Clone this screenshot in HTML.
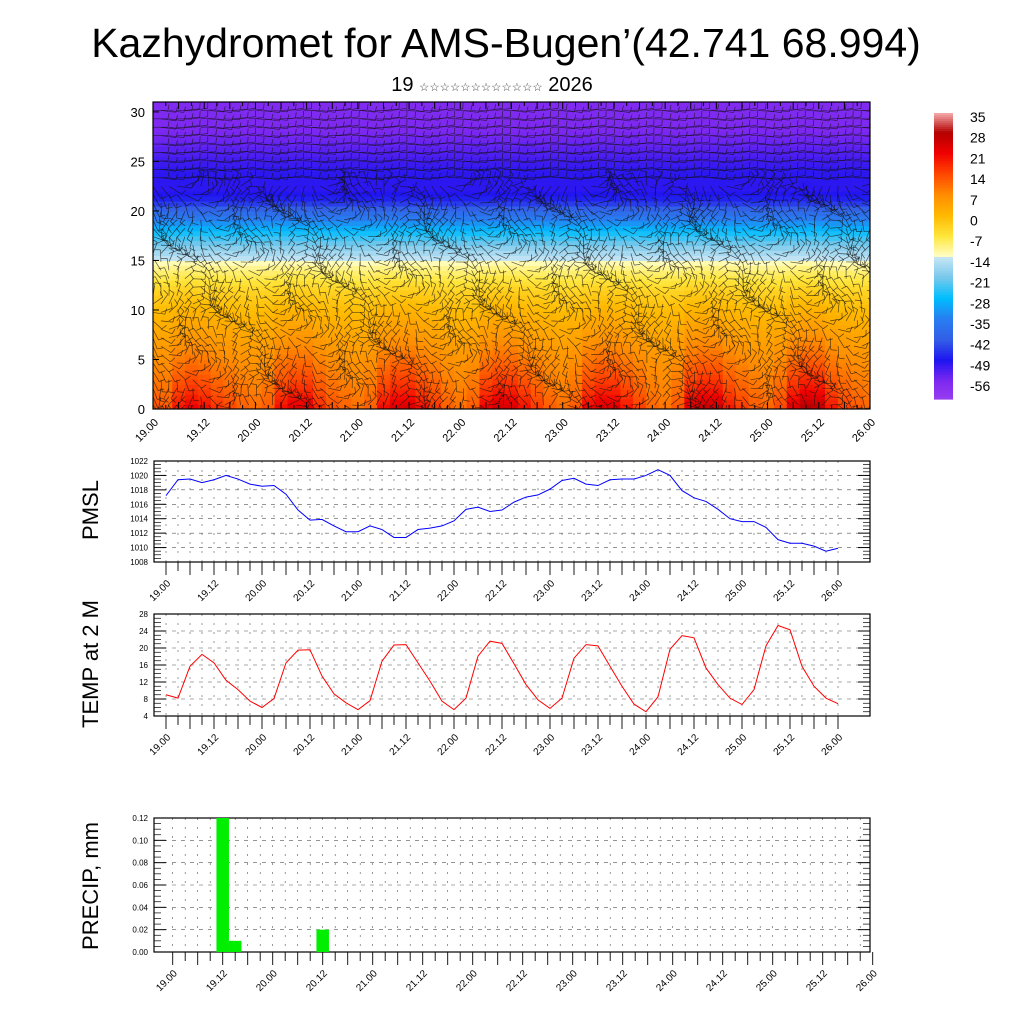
<!DOCTYPE html>
<html><head><meta charset="utf-8"><style>
body{margin:0;background:#fff;}
svg{display:block;font-family:"Liberation Sans",sans-serif;}
</style></head><body>
<svg id="chart" width="1024" height="1024" viewBox="0 0 1024 1024" xmlns="http://www.w3.org/2000/svg">
<defs><clipPath id="topclip"><rect x="153" y="102" width="717" height="307"/></clipPath></defs>
<text x="506" y="57" font-size="41" text-anchor="middle">Kazhydromet for AMS-Bugen’(42.741 68.994)</text>
<text x="492" y="91" font-size="20" text-anchor="middle">19 <tspan font-size="11.5" fill="#444">☆☆☆☆☆☆☆☆☆☆☆☆</tspan> 2026</text>
<g id="top"></g>
<g id="cbar"></g>
<g id="pmsl"></g>
<g id="temp"></g>
<g id="precip"></g>
<text transform="translate(98,510) rotate(-90)" font-size="22" text-anchor="middle">PMSL</text>
<text transform="translate(98,664) rotate(-90)" font-size="22" text-anchor="middle">TEMP at 2 M</text>
<text transform="translate(98,886) rotate(-90)" font-size="22" text-anchor="middle">PRECIP, mm</text>
</svg>
<script>
const timeLabels=["19.00","19.12","20.00","20.12","21.00","21.12","22.00","22.12","23.00","23.12","24.00","24.12","25.00","25.12","26.00"];
const pmslValues=[1017.2,1019.4,1019.5,1019.0,1019.4,1020.0,1019.5,1018.8,1018.5,1018.6,1017.4,1015.2,1013.8,1013.9,1013.0,1012.2,1012.2,1013.0,1012.5,1011.4,1011.4,1012.5,1012.7,1013.0,1013.7,1015.3,1015.6,1015.0,1015.2,1016.3,1017.0,1017.3,1018.1,1019.3,1019.6,1018.8,1018.6,1019.4,1019.5,1019.5,1020.0,1020.8,1020.0,1017.9,1016.9,1016.4,1015.3,1014.0,1013.6,1013.6,1012.8,1011.1,1010.6,1010.6,1010.2,1009.5,1009.9];
const tempValues=[9.0,8.2,15.7,18.5,16.5,12.4,10.2,7.5,6.0,8.1,16.5,19.5,19.6,13.4,9.2,7.1,5.5,7.6,16.9,20.7,20.8,16.5,12.2,7.5,5.5,8.2,18.1,21.6,21.1,16.3,11.4,7.8,5.8,8.2,17.6,20.8,20.5,15.7,11.0,6.8,5.0,8.5,19.7,22.9,22.4,15.3,11.4,8.2,6.7,10.2,20.5,25.3,24.3,15.7,11.0,8.2,6.9];
const precipIndex=[4,5,12];
const precipValues=[0.12,0.01,0.02];
const profileHeights=[0,2,4,6,8,10,12,14,15,16,18,20,21,22,24,26,28,31];
const profileTemps=[16,12,9,6,3,0,-4,-10,-14,-18,-28,-40,-47,-50,-50,-53,-56,-57];
const cbarLabels=[35,28,21,14,7,0,-7,-14,-21,-28,-35,-42,-49,-56];
const NS="http://www.w3.org/2000/svg";
function mk(p,t,a){const e=document.createElementNS(NS,t);for(const k in a)e.setAttribute(k,a[k]);p.appendChild(e);return e;}
const cstops=[[-62,[150,60,240]],[-56,[125,40,240]],[-49,[30,20,240]],[-42,[50,95,230]],[-35,[40,125,240]],[-28,[0,190,255]],[-21,[120,200,235]],[-14.01,[200,230,245]],[-14,[255,255,200]],[-7,[255,230,60]],[0,[255,185,0]],[7,[255,140,0]],[14,[255,70,0]],[21,[240,0,0]],[28,[180,0,0]],[35,[250,180,180]]];
function col(v){if(v<=cstops[0][0])return`rgb(${cstops[0][1]})`;for(let i=1;i<cstops.length;i++){if(v<=cstops[i][0]){const a=cstops[i-1],b=cstops[i],f=(v-a[0])/(b[0]-a[0]);return`rgb(${a[1].map((c,j)=>Math.round(c+(b[1][j]-c)*f)).join(",")})`;}}return`rgb(${cstops[cstops.length-1][1]})`;}
function prof(h){for(let i=1;i<profileHeights.length;i++){if(h<=profileHeights[i]){const f=(h-profileHeights[i-1])/(profileHeights[i]-profileHeights[i-1]);return profileTemps[i-1]+(profileTemps[i]-profileTemps[i-1])*f;}}return profileTemps[profileTemps.length-1];}
const T=document.getElementById('top');
const tx0=153,tx1=870,ty0=102,ty1=409,hMax=31;
const txS=i=>tx0+(tx1-tx0)*i/56, tyS=h=>ty1-(ty1-ty0)*h/hMax;
const n=tempValues.length;
const hg=mk(T,'g',{'clip-path':'url(#topclip)'});
for(let i=0;i<n;i++){const xa=i===0?tx0:(txS(i-1)+txS(i))/2,xb=i===n-1?tx1:(txS(i)+txS(i+1))/2;
 for(let h=0;h<hMax;h+=0.5){const v=prof(h+0.25)+(tempValues[i]-12)*Math.exp(-h/4.5)*0.9;
  const r=mk(hg,'rect',{x:xa,y:tyS(h+0.5),width:xb-xa+0.5,height:(ty1-ty0)/hMax*0.5+0.5,fill:col(v)});
  
  }}
const wg=mk(T,'g',{stroke:'#111','stroke-width':0.7,'stroke-opacity':0.7,fill:'none','clip-path':'url(#topclip)'});


for(let j=0;j<=90;j++){for(let h=0.4;h<31;h+=0.85){const x=tx0+(tx1-tx0)*j/90,y=tyS(h);
 const a=(h>23?0.15*Math.sin(j):1.7*Math.sin(j*0.37+h*0.35)+0.7*Math.cos(h*0.7-j*0.2));const L=h>20?15:12;
 const dx=Math.cos(a)*L,dy=Math.sin(a)*L;
 mk(wg,'line',{x1:x,y1:y,x2:x+dx,y2:y+dy});
 mk(wg,'line',{x1:x+dx,y1:y+dy,x2:x+dx+Math.cos(a-1.4)*6,y2:y+dy+Math.sin(a-1.4)*6});}}
mk(T,'rect',{x:tx0,y:ty0,width:tx1-tx0,height:ty1-ty0,fill:'none',stroke:'#000','stroke-width':1.2});
[0,5,10,15,20,25,30].forEach(v=>{const y=tyS(v);mk(T,'line',{x1:tx0,x2:tx0+6,y1:y,y2:y,stroke:'#000'});
 const t=mk(T,'text',{x:tx0-8,y:y+5,'font-size':13,'text-anchor':'end'});t.textContent=v;
 
 });
for(let i=0;i<n;i++){const x=txS(i);mk(T,'line',{x1:x,x2:x,y1:ty1,y2:ty1-(i%2?4:7),stroke:'#000'});mk(T,'line',{x1:x,x2:x,y1:ty0,y2:ty0+(i%2?4:7),stroke:'#000'});}
timeLabels.forEach((s,k)=>{const x=txS(k*4);const t=mk(T,'text',{transform:`translate(${x+6},${ty1+14}) rotate(-45)`,'font-size':11,'text-anchor':'end'});t.textContent=s;
 
 });
const C=document.getElementById('cbar');
const cb0=113,cb1=398;
for(let y=cb0;y<cb1;y+=2){const v=35-(y+1-112)/20.7*7;mk(C,'rect',{x:934,y:y,width:19,height:2.6,fill:col(v)});}
cbarLabels.forEach((v,k)=>{const t=mk(C,'text',{x:970,y:122+k*20.7,'font-size':14});t.textContent=v;
 
 });
function panel(id,y0,y1,vmin,vmax,major,minor,fmt,x0tick,x1tick){
 const G=document.getElementById(id);const X0=154,X1=870;
 const ys=v=>y1-(y1-y0)*(v-vmin)/(vmax-vmin);const xs=i=>x0tick+(x1tick-x0tick)*i/56;
 const gd=mk(G,'g',{stroke:'#555','stroke-width':0.6,'stroke-dasharray':'4,5'});
 for(let v=vmin+major;v<vmax;v+=major){mk(gd,'line',{x1:X0,x2:X1,y1:ys(v),y2:ys(v)});}
 const gv=mk(G,'g',{stroke:'#555','stroke-width':0.6,'stroke-dasharray':'2,7'});
 for(let i=0;i<=56;i++){const x=xs(i);if(x<X1)mk(gv,'line',{x1:x,x2:x,y1:y0,y2:y1});}
 mk(G,'rect',{x:X0,y:y0,width:X1-X0,height:y1-y0,fill:'none',stroke:'#000','stroke-width':1.2});
 for(let v=vmin;v<=vmax+1e-9;v+=minor){const isM=Math.abs(((v-vmin)/major)-Math.round((v-vmin)/major))<1e-6;const L=isM?12:7;
  mk(G,'line',{x1:X0,x2:X0+L,y1:ys(v),y2:ys(v),stroke:'#000','stroke-width':isM?1:0.7});
  mk(G,'line',{x1:X1,x2:X1-L,y1:ys(v),y2:ys(v),stroke:'#000','stroke-width':isM?1:0.7});
  if(isM){const t=mk(G,'text',{x:X0-6,y:ys(v)+3,'font-size':8,'text-anchor':'end'});t.textContent=fmt(v);
   
   }}
 for(let i=0;i<=56;i++)mk(G,'line',{x1:xs(i),x2:xs(i),y1:y1,y2:y1+(i%2?9:13),stroke:'#000','stroke-width':0.9});
 timeLabels.forEach((s,k)=>{const t=mk(G,'text',{transform:`translate(${xs(k*4)+5},${y1+22}) rotate(-45)`,'font-size':10,'text-anchor':'end'});t.textContent=s;
  
  });
 return {G,xs,ys};}
let p=panel('pmsl',461,562,1008,1022,2,0.5,v=>v.toFixed(0),166,838);
let pts=pmslValues.map((v,i)=>p.xs(i)+','+p.ys(v)).join(' ');
let l=mk(p.G,'polyline',{points:pts,fill:'none',stroke:'#0000ff','stroke-width':1});


p=panel('temp',614,716,4,28,4,1,v=>v.toFixed(0),166,838);
pts=tempValues.map((v,i)=>p.xs(i)+','+p.ys(v)).join(' ');
l=mk(p.G,'polyline',{points:pts,fill:'none',stroke:'#ff0000','stroke-width':1});


p=panel('precip',818,952,0,0.12,0.02,0.005,v=>v.toFixed(2),172.7,872.7);
precipIndex.forEach((i,k)=>{const x=p.xs(i),w=12.5;const y=p.ys(precipValues[k]);
 const r=mk(p.G,'rect',{x:x-w/2,y:y,width:w,height:p.ys(0)-y,fill:'#00ee00'});
 
 });
</script>
</body></html>
